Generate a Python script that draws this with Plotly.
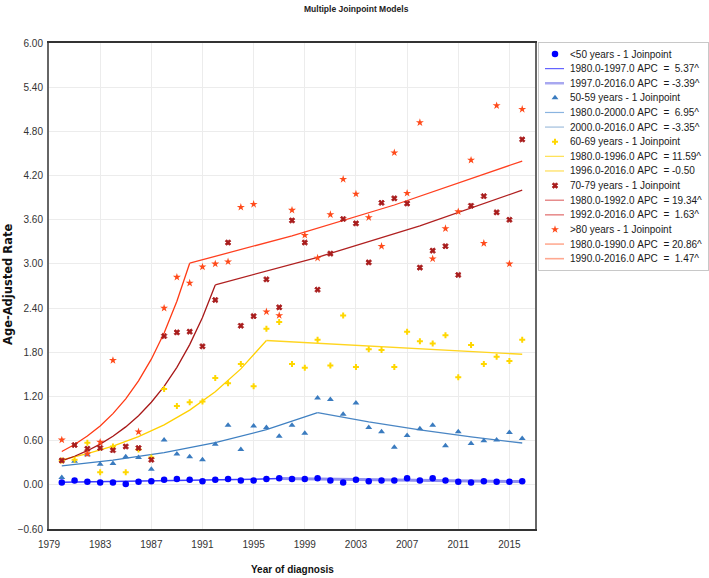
import plotly.graph_objects as go

# ---------------- data ----------------
years = list(range(1980, 2017))

rate_lt50 = [0.03, 0.06, 0.04, 0.03, 0.03, 0.01, 0.04, 0.05, 0.07, 0.08,
             0.07, 0.05, 0.07, 0.08, 0.06, 0.06, 0.08, 0.09, 0.08, 0.08,
             0.09, 0.06, 0.03, 0.07, 0.05, 0.06, 0.06, 0.09, 0.06, 0.09,
             0.06, 0.04, 0.03, 0.05, 0.04, 0.04, 0.05]
rate_50_59 = [0.10, 0.32, 0.41, 0.28, 0.29, 0.38, 0.37, 0.21, 0.61, 0.42,
              0.38, 0.34, 0.55, 0.81, 0.48, 0.80, 0.78, 0.66, 0.81, 0.70,
              1.18, 1.16, 0.96, 1.11, 0.78, 0.72, 0.51, 0.67, 0.76, 0.81,
              0.53, 0.72, 0.56, 0.60, 0.61, 0.71, 0.63]
rate_60_69 = [0.33, 0.34, 0.57, 0.17, 0.52, 0.17, 0.48, 0.37, 1.30, 1.07,
              1.12, 1.13, 1.45, 1.38, 1.64, 1.34, 2.12, 2.21, 1.64, 1.59,
              1.97, 1.62, 2.30, 1.60, 1.84, 1.83, 1.60, 2.08, 1.95, 1.92,
              2.03, 1.46, 1.90, 1.64, 1.74, 1.68, 1.97]
rate_70_79 = [0.33, 0.54, 0.49, 0.50, 0.47, 0.52, 0.50, 0.34, 2.02, 2.07,
              2.08, 1.88, 2.51, 3.29, 2.16, 2.29, 2.79, 2.41, 3.59, 3.29,
              2.65, 3.14, 3.61, 3.55, 3.02, 3.83, 3.89, 3.82, 2.95, 3.18,
              3.24, 2.85, 3.79, 3.92, 3.70, 3.60, 4.69]
rate_80 = [0.61, None, 0.42, 0.58, 1.69, None, 0.72, None, 2.40, 2.82,
           2.74, 2.96, 3.00, 3.03, 3.77, 3.81, 2.35, 2.30, 3.73, 3.39,
           3.08, 3.67, 4.15, 3.95, 3.63, 3.24, 4.51, 3.96, 4.92, 3.07,
           3.48, 3.71, 4.41, 3.28, 5.15, 3.00, 5.10]

# fitted joinpoint segments
fit_lt50_a_x = [1980, 1985, 1990, 1995, 1997]
fit_lt50_a_y = [0.035, 0.046, 0.059, 0.077, 0.085]
fit_lt50_b_x = [1997, 2002, 2007, 2012, 2016]
fit_lt50_b_y = [0.085, 0.072, 0.060, 0.051, 0.044]

fit_50_59_a_x = [1980, 1984, 1988, 1992, 1996, 2000]
fit_50_59_a_y = [0.256, 0.335, 0.438, 0.573, 0.749, 0.980]
fit_50_59_b_x = [2000, 2004, 2008, 2012, 2016]
fit_50_59_b_y = [0.980, 0.855, 0.746, 0.651, 0.568]

fit_60_69_a_x = [1980, 1982, 1984, 1986, 1988, 1990, 1992, 1994, 1996]
fit_60_69_a_y = [0.339, 0.422, 0.526, 0.655, 0.815, 1.015, 1.264, 1.574, 1.960]
fit_60_69_b_x = [1996, 2006, 2016]
fit_60_69_b_y = [1.960, 1.864, 1.773]

fit_70_79_a_x = [1980, 1981, 1982, 1983, 1984, 1985, 1986, 1987, 1988, 1989, 1990, 1991, 1992]
fit_70_79_a_y = [0.325, 0.388, 0.463, 0.552, 0.659, 0.787, 0.939, 1.121, 1.337, 1.596, 1.904, 2.273, 2.715]
fit_70_79_b_x = [1992, 2000, 2008, 2016]
fit_70_79_b_y = [2.715, 3.090, 3.517, 4.002]

fit_80_a_x = [1980, 1981, 1982, 1983, 1984, 1985, 1986, 1987, 1988, 1989, 1990]
fit_80_a_y = [0.453, 0.548, 0.662, 0.800, 0.967, 1.168, 1.412, 1.706, 2.062, 2.493, 3.010]
fit_80_b_x = [1990, 1998, 2006, 2016]
fit_80_b_y = [3.010, 3.382, 3.800, 4.397]

group_names = ["<50 years - 1 Joinpoint", "50-59 years - 1 Joinpoint",
               "60-69 years - 1 Joinpoint", "70-79 years - 1 Joinpoint",
               ">80 years - 1 Joinpoint"]
seg_labels = [
    ["1980.0-1997.0 APC  =  5.37^", "1997.0-2016.0 APC  = -3.39^"],
    ["1980.0-2000.0 APC  =  6.95^", "2000.0-2016.0 APC  = -3.35^"],
    ["1980.0-1996.0 APC  = 11.59^", "1996.0-2016.0 APC  = -0.50"],
    ["1980.0-1992.0 APC  = 19.34^", "1992.0-2016.0 APC  =  1.63^"],
    ["1980.0-1990.0 APC  = 20.86^", "1990.0-2016.0 APC  =  1.47^"],
]
x_ticks = list(range(1979, 2017, 4))

# ---------------- styles ----------------
marker_colors = ["#0000ff", "#3a7bbf", "#ffd700", "#a81c1c", "#ff4a1a"]
marker_symbols = ["circle", "triangle-up", "cross", "x", "star"]
marker_sizes = [6.5, 6, 5, 5, 6]
line_a_colors = ["#3c3cff", "#3f80c2", "#ffd000", "#a81818", "#ff3a14"]
line_b_colors = ["#8f8ff0", "#4a86c4", "#ffd520", "#b02020", "#ff4020"]
line_a_widths = [1.5, 1.3, 1.3, 1.3, 1.3]
line_b_widths = [3.0, 1.3, 1.3, 1.3, 1.3]
legend_a_colors = ["#6464ff", "#8ab4e0", "#ffe050", "#e07070", "#ff9070"]
legend_b_colors = ["#a8a8f0", "#b8cfe6", "#ffe680", "#e89090", "#ffa890"]

rates = [rate_lt50, rate_50_59, rate_60_69, rate_70_79, rate_80]
fits = [
    (fit_lt50_a_x, fit_lt50_a_y, fit_lt50_b_x, fit_lt50_b_y),
    (fit_50_59_a_x, fit_50_59_a_y, fit_50_59_b_x, fit_50_59_b_y),
    (fit_60_69_a_x, fit_60_69_a_y, fit_60_69_b_x, fit_60_69_b_y),
    (fit_70_79_a_x, fit_70_79_a_y, fit_70_79_b_x, fit_70_79_b_y),
    (fit_80_a_x, fit_80_a_y, fit_80_b_x, fit_80_b_y),
]


def marker_style(g):
    return dict(symbol=marker_symbols[g], size=marker_sizes[g], color=marker_colors[g],
                line=dict(width=0.8 if marker_symbols[g] == "x" else 0, color=marker_colors[g]))


fig = go.Figure()

for g in range(5):
    ax, ay, bx, by = fits[g]
    fig.add_trace(go.Scatter(x=ax, y=ay, mode="lines", showlegend=False,
                             line=dict(color=line_a_colors[g], width=line_a_widths[g])))
    fig.add_trace(go.Scatter(x=bx, y=by, mode="lines", showlegend=False,
                             line=dict(color=line_b_colors[g], width=line_b_widths[g])))
for g in range(5):
    fig.add_trace(go.Scatter(x=years, y=rates[g], mode="markers", showlegend=False,
                             marker=marker_style(g)))

# ---------------- custom legend (drawn in a side panel) ----------------
W, H = 709, 578
ml, mr, mt, mb = 49, 0, 43, 49
pw = W - ml - mr
ph = H - mt - mb
plot_right = 535
leg_left, leg_right, leg_top, leg_bot = 539, 708, 43, 270


def px2paper_x(px):
    return (px - ml) / pw


def py2paper_y(py):
    return (H - mb - py) / ph


leg_y0 = 54.0
leg_step = 14.62
entries = []
for g in range(5):
    entries.append(("marker", g, group_names[g]))
    entries.append(("la", g, seg_labels[g][0]))
    entries.append(("lb", g, seg_labels[g][1]))

annotations = []
shapes = []
for i, (kind, g, text) in enumerate(entries):
    yy = leg_y0 + i * leg_step
    if kind == "marker":
        fig.add_trace(go.Scatter(x=[555], y=[yy], xaxis="x2", yaxis="y2", mode="markers",
                                 showlegend=False, hoverinfo="skip", marker=marker_style(g)))
    else:
        col = legend_a_colors[g] if kind == "la" else legend_b_colors[g]
        wid = 1.2 if kind == "la" else (2.5 if g == 0 else 1.6)
        shapes.append(dict(type="line", xref="x2", yref="y2", x0=545, x1=564, y0=yy, y1=yy,
                           line=dict(color=col, width=wid)))
    annotations.append(dict(xref="x2", yref="y2", x=568, y=yy, xanchor="left", yanchor="middle",
                            text=text.replace(" ", "\u00a0"), showarrow=False,
                            font=dict(family="Liberation Sans, Arial", size=10, color="#1a1a1a")))

# axis titles & title
annotations.append(dict(xref="paper", yref="paper", x=px2paper_x(292), y=py2paper_y(569),
                        text="<b>Year of diagnosis</b>", showarrow=False,
                        xanchor="center", yanchor="middle",
                        font=dict(family="Liberation Sans, Arial", size=10, color="#111")))
annotations.append(dict(xref="paper", yref="paper", x=px2paper_x(8), y=py2paper_y(285),
                        text="<b>Age-Adjusted Rate</b>", showarrow=False, textangle=-90,
                        xanchor="center", yanchor="middle",
                        font=dict(family="DejaVu Sans, Verdana", size=11.5, color="#111")))
annotations.append(dict(xref="paper", yref="paper", x=px2paper_x(356), y=py2paper_y(9),
                        text="<b>Multiple Joinpoint Models</b>", showarrow=False,
                        xanchor="center", yanchor="middle",
                        font=dict(family="Liberation Sans, Arial", size=8.5, color="#222")))

fig.update_layout(
    width=W, height=H,
    margin=dict(l=ml, r=mr, t=mt, b=mb),
    paper_bgcolor="white", plot_bgcolor="white",
    showlegend=False,
    hovermode=False,
    annotations=annotations,
    shapes=shapes,
    xaxis=dict(domain=[0, px2paper_x(plot_right)], range=[1979, 2017],
               tickmode="array", tickvals=x_ticks, ticktext=[str(v) for v in x_ticks],
               showgrid=True, gridcolor="#ececec", gridwidth=1,
               showline=True, linecolor="#333", linewidth=1.5, mirror=True,
               ticks="outside", ticklen=5, tickcolor="rgba(0,0,0,0)",
               zeroline=False,
               tickfont=dict(family="Liberation Sans, Arial", size=10, color="#333")),
    yaxis=dict(range=[-0.6, 6.0], tick0=-0.6, dtick=0.6, tickformat=".2f",
               showgrid=True, gridcolor="#ececec", gridwidth=1,
               showline=True, linecolor="#666", linewidth=2, mirror=True,
               ticks="outside", ticklen=2, tickcolor="rgba(0,0,0,0)",
               zeroline=False,
               tickfont=dict(family="Liberation Sans, Arial", size=10, color="#333")),
    xaxis2=dict(domain=[px2paper_x(leg_left), px2paper_x(leg_right)], range=[leg_left, leg_right],
                anchor="y2", showgrid=False, zeroline=False, showticklabels=False, ticks="",
                showline=True, linecolor="#c8c8c8", linewidth=1, mirror=True, fixedrange=True),
    yaxis2=dict(domain=[py2paper_y(leg_bot), py2paper_y(leg_top)], range=[leg_bot, leg_top],
                anchor="x2", showgrid=False, zeroline=False, showticklabels=False, ticks="",
                showline=True, linecolor="#c8c8c8", linewidth=1, mirror=True, fixedrange=True),
)

fig.write_html("out.html",
               config={"displayModeBar": False},
               post_script="document.body.style.margin='0';document.body.style.overflow='hidden';")
